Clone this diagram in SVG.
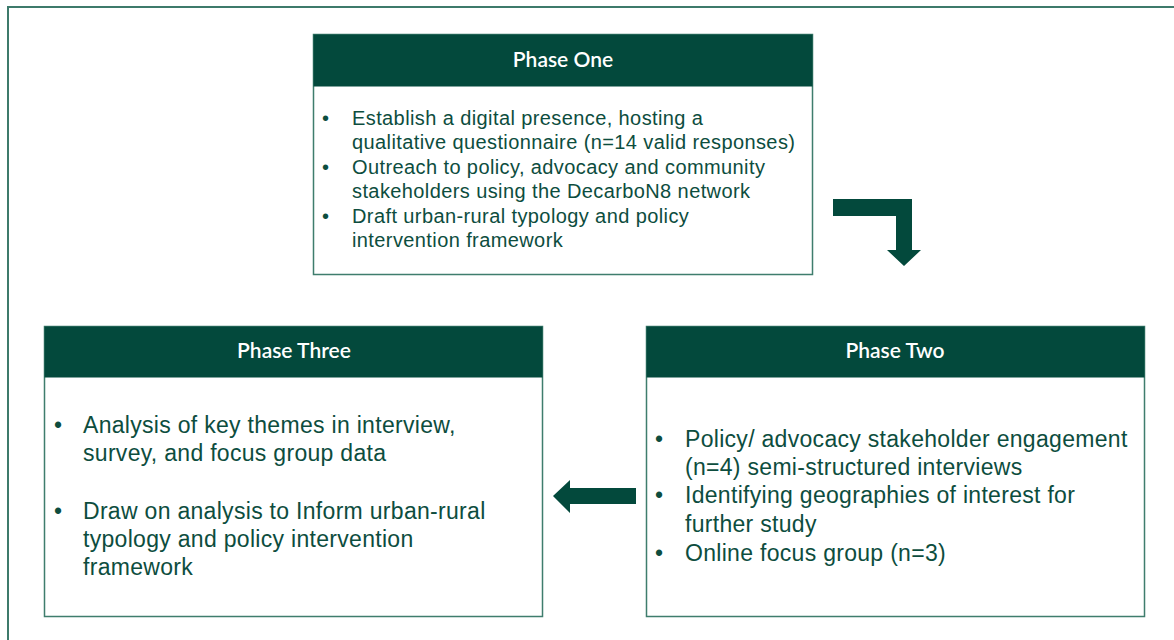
<svg xmlns="http://www.w3.org/2000/svg" width="1174" height="640" viewBox="0 0 1174 640">
  <style>
    .frame { fill: #ffffff; stroke: #3d7a6b; stroke-width: 2; }
    .box { fill: #ffffff; stroke: #3f7d6d; stroke-width: 1.5; }
    .hdr { fill: #03493c; }
    .htxt { font-family: Lato, "Open Sans", sans-serif; font-size: 21px; font-weight: 600; fill: #ffffff; text-anchor: middle; }
    .t1 { font-family: "Liberation Sans", Arial, sans-serif; font-size: 20px; letter-spacing: 0.4px; fill: #0d4d3e; }
    .t2 { font-family: "Liberation Sans", Arial, sans-serif; font-size: 23px; letter-spacing: 0.3px; fill: #0d4d3e; }
    .arrow { fill: #03493c; }
  </style>
  <rect x="0" y="0" width="1174" height="640" fill="#ffffff"/>
  <rect class="frame" x="8" y="7" width="1180" height="650"/>

  <g id="phase-one">
    <rect class="box" x="313.5" y="34.5" width="499" height="240"/>
    <rect class="hdr" x="313.5" y="34.5" width="499" height="52"/>
    <text class="htxt" x="563" y="67">Phase One</text>
    <text class="t1" x="322" y="125">•</text>
    <text class="t1" x="352" y="125">Establish a digital presence, hosting a</text>
    <text class="t1" x="352" y="149">qualitative questionnaire (n=14 valid responses)</text>
    <text class="t1" x="322" y="174">•</text>
    <text class="t1" x="352" y="174">Outreach to policy, advocacy and community</text>
    <text class="t1" x="352" y="198">stakeholders using the DecarboN8 network</text>
    <text class="t1" x="322" y="223">•</text>
    <text class="t1" x="352" y="223">Draft urban-rural typology and policy</text>
    <text class="t1" x="352" y="247">intervention framework</text>
  </g>

  <g id="phase-three">
    <rect class="box" x="44.5" y="326.5" width="498" height="290"/>
    <rect class="hdr" x="44.5" y="326.5" width="498" height="51"/>
    <text class="htxt" x="294" y="358">Phase Three</text>
    <text class="t2" x="54" y="433">•</text>
    <text class="t2" x="83" y="433">Analysis of key themes in interview,</text>
    <text class="t2" x="83" y="461">survey, and focus group data</text>
    <text class="t2" x="54" y="519">•</text>
    <text class="t2" x="83" y="519">Draw on analysis to Inform urban-rural</text>
    <text class="t2" x="83" y="547">typology and policy intervention</text>
    <text class="t2" x="83" y="575">framework</text>
  </g>

  <g id="phase-two">
    <rect class="box" x="646.5" y="326.5" width="498" height="290"/>
    <rect class="hdr" x="646.5" y="326.5" width="498" height="51"/>
    <text class="htxt" x="895" y="358">Phase Two</text>
    <text class="t2" x="655" y="447">•</text>
    <text class="t2" x="685" y="447">Policy/ advocacy stakeholder engagement</text>
    <text class="t2" x="685" y="475">(n=4) semi-structured interviews</text>
    <text class="t2" x="655" y="503">•</text>
    <text class="t2" x="685" y="503">Identifying geographies of interest for</text>
    <text class="t2" x="685" y="532">further study</text>
    <text class="t2" x="655" y="561">•</text>
    <text class="t2" x="685" y="561">Online focus group (n=3)</text>
  </g>

  <g id="connectors">
    <polygon class="arrow" points="833,199 912,199 912,250 921,250 904,266 887,250 896,250 896,216 833,216"/>
    <polygon class="arrow" points="636,488 570,488 570,480 553,496 570,513 570,504 636,504"/>
  </g>
</svg>
